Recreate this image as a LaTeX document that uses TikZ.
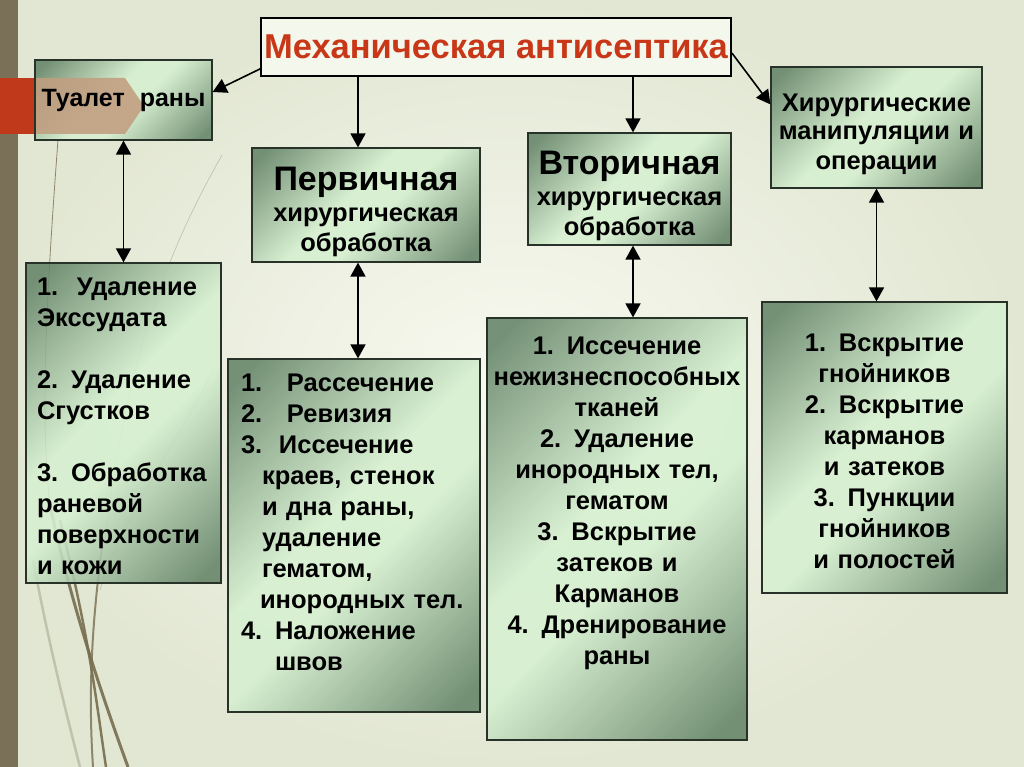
\documentclass[tikz,border=0pt]{standalone}
\usepackage{fontspec}
\setmainfont{Liberation Sans}
\usetikzlibrary{arrows.meta,positioning,calc}

\definecolor{bgin}{RGB}{248,249,240}
\definecolor{bgout}{RGB}{226,231,211}
\definecolor{stripbrown}{RGB}{122,112,88}
\definecolor{stripred}{RGB}{192,57,27}
\definecolor{tagtan}{RGB}{194,158,128}
\definecolor{boxdark}{RGB}{100,132,104}
\definecolor{boxlight}{RGB}{214,240,208}
\definecolor{boxline}{RGB}{40,50,40}
\definecolor{titlefill}{RGB}{244,247,236}
\definecolor{titlered}{RGB}{200,56,24}
\definecolor{grass}{RGB}{120,110,80}
\pgfdeclarehorizontalshading{boxshade}{100bp}{color(0bp)=(boxdark); color(18bp)=(boxdark); color(45bp)=(boxlight); color(55bp)=(boxlight); color(82bp)=(boxdark); color(100bp)=(boxdark)}

\newcommand{\boxtextfont}{\fontsize{25.5}{31}\selectfont\bfseries}
\newcommand{\headtextfont}{\fontsize{25.5}{29.5}\selectfont\bfseries}
\newcommand{\bigheadfont}{\fontsize{34}{38}\selectfont\bfseries}

\begin{document}
\begin{tikzpicture}[
  x=1pt, y=-1pt,
  tbox/.style={draw=boxline, line width=1.2pt, shade, shading=boxshade,
               shading angle=-45, fill opacity=0.88, text opacity=1, inner sep=0pt},
  headbox/.style={tbox, align=center, font=\headtextfont},
  listbox/.style={tbox, font=\boxtextfont},
  arr/.style={line width=1.6pt, -{Triangle[length=14pt,width=15pt]}},
  biarr/.style={line width=1.6pt, {Triangle[length=14pt,width=15pt]}-{Triangle[length=14pt,width=15pt]}}
]
  % background and theme strokes
  \path[use as bounding box] (0,0) rectangle (1024,767);
  \shade[inner color=bgin, outer color=bgout] (0,0) rectangle (1024,767);
  \fill[stripbrown] (0,0) rectangle (18,767);
  \draw[grass, line width=0.8pt, opacity=0.8] (58,140) .. controls (46,300) and (40,420) .. (50,505);
  \draw[grass, line width=0.6pt, opacity=0.35] (222,155) .. controls (180,230) and (130,330) .. (105,540);
  \draw[grass, line width=0.6pt, opacity=0.35] (218,360) .. controls (180,440) and (120,520) .. (100,590);
  \draw[grass, line width=2.5pt, opacity=0.3] (33,560) .. controls (50,650) and (68,720) .. (80,767);
  \draw[grass, line width=3pt, opacity=0.9] (50,505) .. controls (70,600) and (100,690) .. (128,767);
  \draw[grass, line width=2.5pt, opacity=0.9] (60,520) .. controls (90,640) and (96,700) .. (106,767);
  \draw[grass, line width=2pt, opacity=0.8] (103,540) .. controls (92,620) and (88,690) .. (93,767);
  \fill[stripred] (0,78) rectangle (35,134);

  % boxes
  \node[draw=black, line width=1.8pt, fill=titlefill, minimum width=470pt, minimum height=58pt,
        inner sep=0pt, text=titlered, font=\fontsize{34.5}{40}\selectfont\bfseries]
        (title) at (496,47) {Механическая антисептика};
  \node[tbox, minimum width=177pt, minimum height=80pt, font=\fontsize{25}{28}\selectfont\bfseries,
        path picture={\fill[tagtan] ($(path picture bounding box.north west)+(0,18)$)
          -- ++(90,0) -- ++(19,28) -- ++(-19,28) -- ++(-90,0) -- cycle;}]
        (toilet) at (123.5,100) {Туалет\hspace{0.6em}раны};
  \node[headbox, minimum width=211pt, minimum height=121pt, text width=205pt]
        (hirhead) at (876.5,127.5) {\fontsize{25.5}{28.5}\selectfont\mbox{}\\[2pt]Хирургические\\манипуляции и\\операции};
  \node[headbox, minimum width=228pt, minimum height=114pt, text width=222pt]
        (pervhead) at (366,205) {\mbox{}\\[7pt]{\bigheadfont Первичная}\\[2pt]хирургическая\\обработка};
  \node[headbox, minimum width=203pt, minimum height=112pt, text width=197pt]
        (vtorhead) at (629.5,189) {\mbox{}\\[7pt]{\bigheadfont Вторичная}\\[2pt]хирургическая\\обработка};

  \node[listbox, minimum width=195pt, minimum height=320pt, text width=173pt, inner xsep=11pt, align=left]
        (toiletlist) at (123.5,423) {\mbox{}\\[-6pt]\makebox[40pt][l]{1.}Удаление\\Экссудата\\[31pt]2. Удаление\\Сгустков\\[31pt]3. Обработка\\раневой\\поверхности\\и кожи};
  \node[listbox, minimum width=252pt, minimum height=353pt, text width=226pt, inner xsep=13pt, align=left]
        (pervlist) at (354,535.5) {\makebox[46pt][l]{1.}Рассечение\\\makebox[46pt][l]{2.}Ревизия\\\makebox[38pt][l]{3.}Иссечение\\\hspace*{21pt}краев, стенок\\\hspace*{21pt}и дна раны,\\\hspace*{21pt}удаление\\\hspace*{21pt}гематом,\\\hspace*{19pt}инородных тел.\\4. Наложение\\\hspace*{34pt}швов\\[-5pt]\mbox{}};
  \node[listbox, minimum width=260pt, minimum height=422pt, text width=254pt, inner xsep=3pt, align=center]
        (vtorlist) at (617,529) {1.\hspace{0.5em}Иссечение\\нежизнеспособных\\тканей\\2. Удаление\\инородных тел,\\гематом\\3. Вскрытие\\затеков и\\Карманов\\4. Дренирование\\раны\\[25pt]\mbox{}};
  \node[listbox, minimum width=245pt, minimum height=291pt, text width=235pt, inner xsep=5pt, align=center]
        (hirlist) at (884.5,447.5) {\mbox{}\\[-6pt]1.\hspace{0.5em}Вскрытие\\гнойников\\2. Вскрытие\\карманов\\и затеков\\3. Пункции\\гнойников\\и полостей};

  % connectors
  \coordinate (pervlink) at ([xshift=-8pt]pervhead.north);
  \coordinate (vtorlink) at ([xshift=3.5pt]vtorhead.north);
  \draw[arr] ($(title.south west)+(0,-8)$) -- ($(toilet.east)+(0,-8)$);
  \draw[arr] ($(title.east)+(0,6)$) -- ($(hirhead.north west)+(0,38)$);
  \draw[arr] (title.south -| pervlink) -- (pervlink);
  \draw[arr] (title.south -| vtorlink) -- (vtorlink);
  \draw[biarr] (toilet.south) -- (toiletlist.north);
  \draw[biarr] (pervhead.south -| pervlink) -- (pervlist.north -| pervlink);
  \draw[biarr] (vtorhead.south -| vtorlink) -- (vtorlist.north -| vtorlink);
  \draw[biarr] (hirhead.south) -- (hirlist.north -| hirhead.south);
\end{tikzpicture}
\end{document}
